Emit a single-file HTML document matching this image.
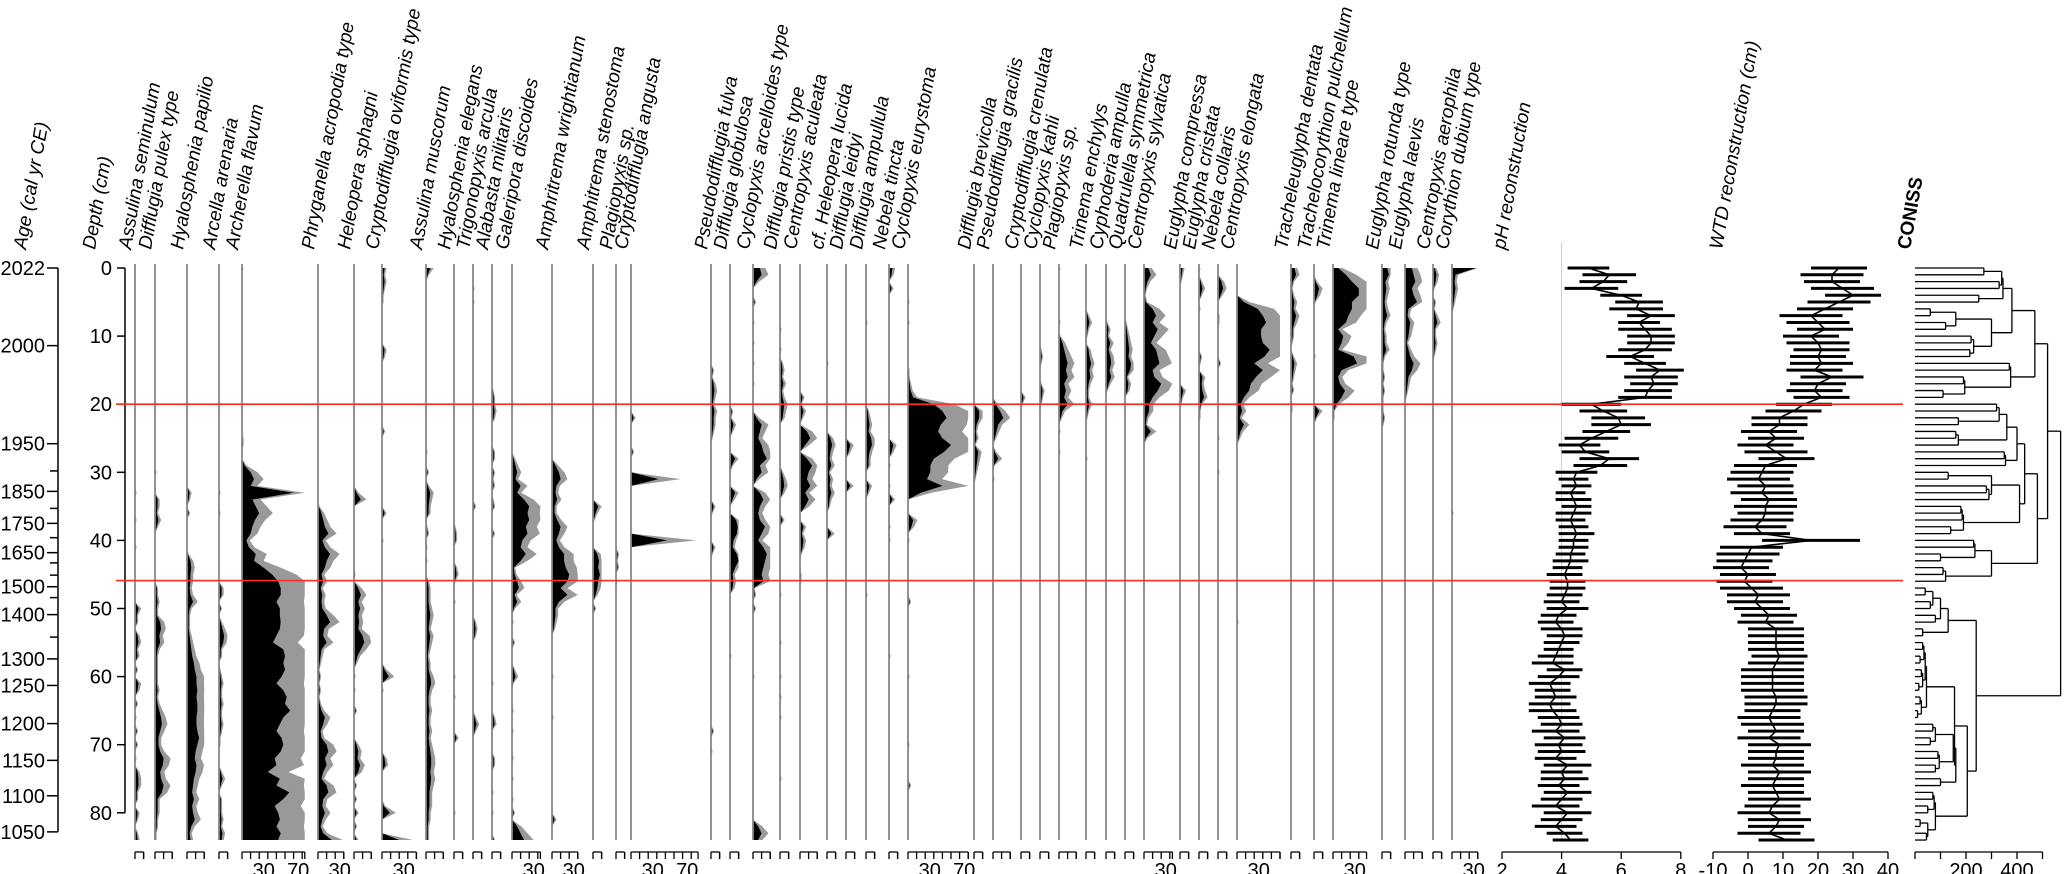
<!DOCTYPE html>
<html><head><meta charset="utf-8">
<style>
html,body{margin:0;padding:0;background:#fff;}
svg{display:block;font-family:"Liberation Sans",Arial,sans-serif;}
.lbl{font-style:italic;font-size:19px;fill:#000;}
.num{font-size:20px;fill:#000;}
</style></head>
<body>
<svg id="chart" width="2067" height="874" viewBox="0 0 2067 874" xmlns="http://www.w3.org/2000/svg">
<g id="cols"></g>
<g id="axes"></g>
<g id="recon"></g>
<g id="coniss"></g>
<g id="labels"></g>
<g id="zones"></g>
</svg>
<script>
const NS="http://www.w3.org/2000/svg";
const taxaNames=["Assulina seminulum","Difflugia pulex type","Hyalosphenia papilio","Arcella arenaria","Archerella flavum","Phryganella acropodia type","Heleopera sphagni","Cryptodifflugia oviformis type","Assulina muscorum","Hyalosphenia elegans","Trigonopyxis arcula","Alabasta militaris","Galeripora discoides","Amphritrema wrightianum","Amphitrema stenostoma","Plagiopyxis sp.","Cryptodifflugia angusta","Pseudodifflugia fulva","Difflugia globulosa","Cyclopyxis arcelloides type","Difflugia pristis type","Centropyxis aculeata","cf. Heleopera lucida","Difflugia leidyi","Difflugia ampullula","Nebela tincta","Cyclopyxis eurystoma","Difflugia brevicolla","Pseudodifflugia gracilis","Cryptodifflugia crenulata","Cyclopyxis kahli","Plagiopyxis sp.","Trinema enchylys","Cyphoderia ampulla","Quadrulella symmetrica","Centropyxis sylvatica","Euglypha compressa","Euglypha cristata","Nebela collaris","Centropyxis elongata","Tracheleuglypha dentata","Trachelocorythion pulchellum","Trinema lineare type","Euglypha rotunda type","Euglypha laevis","Centropyxis aerophila","Corythion dubium type"];
const taxaMax=[10,20,20,10,73,30,20,40,20,10,10,10,33,30,10,10,78,10,10,20,10,20,10,10,10,10,70,10,20,10,10,20,10,10,10,33,10,10,10,50,10,10,39,10,20,10,30];
// depth/value pairs (cm, %), unlisted samples are 0
const taxaValues=[
[33,1,37,1,41,1,50,4,51,2,52,2,54,3,55,4,56,2,57,3,59,2,61,4,62,3,64,2,66,1,68,2,70,2,72,1,74,3,75,4,76,4,77,2,78,2,80,3,81,2,83,2,84,3],
[30,1,34,3,35,3,36,2,37,4,38,2,47,2,48,2,49,3,50,2,51,2,52,6,53,7,54,5,55,6,56,3,57,2,58,2,59,2,60,2,61,2,62,3,63,2,64,3,65,5,66,7,67,8,68,6,69,4,70,4,71,6,72,10,73,9,74,6,75,7,76,10,77,8,78,3,79,3,80,3,81,2,82,2,83,1,84,1],
[33,3,34,2,36,2,42,1,43,4,44,5,45,4,46,4,47,3,48,4,49,7,50,3,51,2,52,2,53,2,54,3,55,4,56,5,57,6,58,8,59,9,60,11,61,11,62,12,63,11,64,12,65,12,66,11,67,11,68,12,69,14,70,12,71,10,72,9,73,11,74,10,75,8,76,7,77,6,78,8,79,6,80,7,81,9,82,5,83,3,84,4],
[33,1,36,1,47,3,48,3,50,2,52,2,53,4,54,6,55,5,56,2,57,2,59,1,60,2,61,3,62,2,63,2,64,3,65,2,66,2,67,3,68,2,69,1,70,1,74,2,75,4,76,2,78,2,79,2,80,2,81,3,82,2,83,4,84,3],
[0,1,25,1,26,1,29,3,30,10,31,14,32,10,33,60,34,12,35,16,36,20,37,15,38,12,39,10,40,5,41,8,42,16,43,14,44,25,45,35,46,42,47,45,48,45,49,40,50,44,51,44,52,45,53,44,54,40,55,36,56,48,57,50,58,48,59,50,60,46,61,40,62,48,63,52,64,50,65,56,66,48,67,44,68,40,69,46,70,48,71,45,72,38,73,40,74,30,75,44,76,40,77,55,78,48,79,38,80,42,81,44,82,40,83,45,84,42],
[35,1,36,4,37,6,38,8,39,12,40,5,41,8,42,14,43,10,44,8,45,4,46,6,47,3,48,5,49,4,50,5,51,10,52,14,53,7,54,6,55,10,56,4,57,3,58,2,59,1,60,2,61,1,62,2,63,1,64,2,65,4,66,8,67,6,68,3,69,4,70,10,71,12,72,8,73,10,74,6,75,4,76,10,77,12,78,6,79,5,80,8,81,5,82,3,83,6,84,16],
[33,3,34,8,45,1,47,5,48,8,49,5,50,7,51,5,52,6,53,5,54,10,55,12,56,8,57,4,58,2,60,1,62,1,65,2,70,3,71,5,72,4,73,7,74,5,76,2,78,2,80,3,82,2,84,3],
[0,3,1,2,2,3,3,2,4,1,5,1,12,3,13,2,24,2,36,3,40,1,59,3,60,8,62,1,72,3,73,4,79,2,80,9,84,20],
[0,5,1,2,27,1,30,2,32,2,33,5,34,4,35,3,36,3,38,1,39,2,41,1,43,1,46,2,47,3,48,3,49,3,50,4,51,5,52,4,53,3,54,5,55,4,56,3,57,2,58,3,59,3,60,5,61,6,62,4,63,3,64,3,65,4,66,3,67,3,68,4,69,3,70,4,71,5,72,6,73,6,74,5,75,6,76,5,77,4,78,4,79,4,80,3,81,3,82,2,83,2,84,2],
[38,1,39,2,40,2,44,2,45,3,46,1,49,1,60,1,63,1,69,3,80,1],
[3,1,5,1,35,2,52,2,53,3,54,2,66,2,67,4,68,2],
[18,1,19,2,20,2,21,3,22,2,27,2,28,2,30,2,31,1,32,2,34,1,35,2,39,2,61,1,66,2,67,3,72,2,73,2,77,1,80,1,84,2],
[20,1,28,2,29,4,30,6,31,4,32,10,33,6,34,14,35,20,36,18,37,20,38,16,39,18,40,12,41,10,42,16,43,10,44,2,45,3,46,6,47,8,48,3,49,6,50,2,52,1,55,2,59,2,60,4,61,1,65,1,68,1,72,1,75,1,78,1,80,2,82,6,83,10,84,14],
[29,4,30,8,31,10,32,5,33,4,34,6,35,3,36,3,37,6,38,10,39,8,40,5,41,8,42,14,43,14,44,16,45,20,46,18,47,10,48,18,49,8,50,4,51,4,52,3,53,2,60,1,66,1,81,3],
[35,6,36,3,37,1,42,5,43,7,44,6,45,8,46,6,47,5,48,3,50,2],
[42,2,43,1,44,2,46,1],
[22,3,27,2,31,32,40,42],
[15,2,16,1,17,3,18,4,19,3,20,2,21,4,22,3,23,3,24,2,25,1,35,3,36,1,41,3,42,1,68,2,71,1],
[21,2,22,1,23,4,24,2,28,6,29,2,33,6,34,3,37,7,38,9,39,8,40,4,41,3,42,8,43,10,44,6,45,3,46,4,47,3,57,1],
[0,8,1,10,2,4,5,2,8,1,11,1,14,1,17,1,22,4,23,10,24,8,25,6,26,10,27,12,28,16,29,8,30,10,31,4,33,8,34,12,35,8,36,6,37,8,38,14,39,10,40,6,41,12,42,16,43,14,44,12,45,10,46,12,47,1,48,2,50,2,60,1,82,6,83,10,84,6],
[9,1,12,1,14,2,15,3,16,2,17,4,18,2,19,3,20,5,21,4,22,3,30,2,31,4,32,5,33,3,37,3,48,1,55,1,60,1,63,1,66,1,75,1],
[19,3,20,1,21,4,22,2,24,8,25,12,26,6,28,8,29,14,30,10,31,8,32,12,33,6,34,10,35,6,38,4,39,2,40,4,41,3,42,1,45,1,46,1],
[14,1,25,4,26,6,27,4,28,3,29,5,30,2,31,4,32,3,33,5,34,3,35,2,39,5],
[26,5,27,3,32,5],
[8,1,21,2,22,3,23,4,24,3,25,6,26,7,27,4,28,3,29,3,32,4,33,2,48,1],
[0,4,1,3,3,3,26,5,27,3,29,1,32,1,34,4,38,1,40,1,57,1],
[5,1,8,1,15,1,16,1,17,2,18,3,19,6,20,30,21,40,22,45,23,38,24,35,25,40,26,50,27,42,28,30,29,26,30,26,31,22,32,40,33,15,37,6,38,4,40,1,49,2,60,1,70,1,76,2],
[21,6,22,6,23,3,24,2,25,3,26,1,27,5,28,4,29,3,30,2,31,1],
[20,3,21,8,22,12,23,6,24,4,25,2,27,2,28,6,29,1,31,1],
[19,3,20,1],
[12,1,13,2,14,1,17,1,18,3,19,2,20,1],
[0,1,8,1,10,1,11,4,12,6,13,8,14,10,15,8,16,10,17,6,18,8,19,6,20,10,21,4,22,2,24,1,27,1],
[7,2,8,4,9,2,10,1,12,3,13,4,14,6,15,4,16,5,17,3,18,2,19,2,20,4,21,2,22,1,28,1],
[8,1,9,3,10,2,11,5,12,3,13,5,14,6,15,4,16,6,17,3,18,1],
[8,1,9,2,10,3,11,4,12,5,13,4,14,7,15,6,16,2,17,4,18,3],
[0,5,1,8,2,4,3,2,4,1,5,2,6,10,7,14,8,10,9,16,10,12,11,8,12,14,13,16,14,18,15,10,16,12,17,20,18,16,19,10,20,6,21,6,22,3,23,2,24,8,25,2],
[0,3,1,2,2,1,18,4,19,2,20,1],
[0,1,2,2,3,4,4,2,6,1,13,2,14,1,16,4,17,3,18,4,19,6,20,2,21,1,22,1],
[2,4,3,6,4,3,7,1,8,1,14,2,25,1,30,1],
[5,8,6,24,7,30,8,34,9,28,10,28,11,30,12,38,13,32,14,20,15,30,16,22,17,16,18,14,19,8,20,4,21,6,22,3,23,8,24,4,25,2,52,1],
[0,4,1,6,2,2,3,1,4,2,5,4,6,3,7,6,8,4,9,2,10,2,11,1,13,2,14,4,15,3,16,2,17,1,18,2,20,1,21,1],
[2,2,3,6,4,4,5,1,13,1,21,6,22,2],
[0,6,1,15,2,22,3,30,4,30,5,22,6,22,7,18,8,15,9,6,10,12,11,10,12,6,13,24,14,28,15,10,16,6,17,8,18,14,19,10,20,4,21,1,22,1],
[0,6,1,8,2,4,3,5,4,4,5,3,6,4,7,6,8,3,9,2,10,3,11,3,12,5,13,2,14,1,15,1,16,2,17,1,18,2,19,1,20,1,21,1,22,2,23,1],
[0,8,1,10,2,12,3,8,4,10,5,14,6,4,7,3,8,6,9,5,10,4,11,2,12,4,13,6,14,10,15,8,16,4,17,3,18,2,19,1],
[0,2,1,4,2,3,3,1,5,2,6,1,7,3,8,5,9,2,10,2,11,3,12,2,13,1],
[0,28,1,4,2,3,3,4,4,3,5,2,6,1,36,1]
];
const phValues=[4.9,5.6,5.4,5.0,6.0,6.6,6.5,7.0,6.6,6.8,7.0,7.0,6.8,6.3,6.8,7.3,7.0,7.1,6.9,6.8,5.0,5.4,5.9,6.0,5.5,5.0,4.6,4.8,5.6,5.3,4.5,4.4,4.5,4.3,4.4,4.5,4.4,4.3,4.4,4.5,4.4,4.4,4.3,4.3,4.2,4.1,4.2,4.2,4.1,4.0,4.2,3.9,3.8,4.0,4.1,4.0,3.9,3.8,3.7,4.1,3.9,3.6,3.7,3.8,3.6,3.7,3.9,4.0,3.8,4.1,3.9,4.0,3.8,4.2,4.0,4.1,3.9,4.2,4.0,3.8,4.2,4.0,3.8,4.1,4.3];
const phErr=[0.7,0.9,0.8,0.9,0.7,0.8,0.9,0.8,0.7,0.9,0.8,0.8,0.9,0.8,0.7,0.8,0.9,0.8,0.8,0.9,1.0,0.8,0.9,1.0,0.8,0.9,0.7,0.8,1.0,0.9,0.7,0.5,0.5,0.5,0.6,0.5,0.6,0.5,0.5,0.6,0.5,0.5,0.5,0.6,0.5,0.6,0.6,0.6,0.6,0.6,0.7,0.6,0.6,0.7,0.6,0.6,0.5,0.6,0.7,0.6,0.7,0.7,0.6,0.7,0.7,0.8,0.7,0.7,0.8,0.7,0.8,0.8,0.7,0.8,0.7,0.8,0.7,0.8,0.7,0.8,0.8,0.7,0.7,0.6,0.6];
const wtdValues=[26,24,24,27,30,26,22,18,20,22,18,20,21,20,21,19,24,20,19,21,16,13,9,9,6,8,5,8,11,5,4,3,5,4,6,5,5,4,2,4,18,1,0,-1,-2,0,-1,1,3,2,4,6,5,8,8,8,8,9,8,7,7,7,7,8,8,7,6,7,8,6,9,8,8,7,9,8,7,8,9,7,6,9,8,6,11];
const wtdErr=[8,9,8,9,8,9,8,9,9,8,8,9,8,8,9,8,9,8,8,8,8,8,8,8,8,8,8,9,8,9,9,9,8,9,8,9,8,9,9,8,14,9,9,8,8,8,8,9,9,8,8,8,8,8,8,8,8,8,8,9,9,9,9,9,9,8,9,9,8,9,9,8,8,9,9,8,9,8,9,8,9,9,8,9,8];
const ageLabels=["2022","2000","1950","1850","1750","1650","1500","1400","1300","1250","1200","1150","1100","1050"];
const ageDepths=[0,11.4,25.8,32.8,37.5,41.8,46.8,50.9,57.4,61.3,66.9,72.3,77.5,82.8];
const ageMinorDepths=[29.8,35.3,39.6,43.3,45.1,48.4,54.2];
const depthTicks=[0,10,20,30,40,50,60,70,80];
const zoneDepths=[20,45.9];
const phTicks=[2,4,6,8];
const wtdTicks=[-10,0,10,20,30,40];
const conissTicks=[0,100,200,300,400,500];
const conissLabels=[200,400];
const A1=[[[0,1,270],[2,3,330],340],[4,5,250],345];
const A2=[[[6,7,60],[8,9,120],160],[[10,11,220],[12,13,215],230],300];
const A3=[[14,15,370],[[16,17,190],[18,19,110],195],375];
const Bt=[[[[20,21,320],[22,23,170],330],[[24,25,160],26,170],360],[[27,28,350],29,355],400];
const Bm=[[[30,31,130],[[32,33,280],34,290],300],[[[35,36,180],37,185],[38,39,140],190],410];
const Bb=[[[40,41,230],[42,43,100],235],[[44,45,110],46,120],300];
const C1=[[[[47,48,40],[49,50,60],70],[51,52,80],100],[53,54,30],130];
const C2=[[[[55,56,30],[57,58,20],35],[[59,60,25],[61,62,15],30],40],[[63,64,20],[65,66,10],25],45];
const C3=[[[[67,68,70],[69,70,60],80],[[71,72,90],[73,74,80],95],150],[75,76,100],160];
const C4=[[[77,78,70],[79,80,50],75],[[81,82,20],[83,84,45],50],80];
const conissTree=[[[[A1,A2,380],A3,470],[[Bt,Bm,430],Bb,480],520],[C1,[[C2,C3,155],C4,205],240],571];

// layout (not data)
const colX=[135,155,187,219,242,318,354,382,426,454,473,492,512,552,593,616,631,711,730,753,780,800,827,846,866,889,908,974,993,1021,1040,1059,1086,1106,1125,1144,1180,1199,1218,1237,1291,1314,1333,1382,1405,1433,1452];
const Y0=268, PXCM=6.81, PXPCT=0.86, AXY=852, NS_=85;
const yD=d=>Y0+d*PXCM;
const phX=v=>1502+(v-2)*29.8;
const wtdX=v=>1713+(v+10)*3.5;
const conX=h=>1915+h*0.255;

function mk(tag,attrs,parent){const e=document.createElementNS(NS,tag);for(const k in attrs)e.setAttribute(k,attrs[k]);parent.appendChild(e);return e;}
const cols=document.getElementById('cols'),axes=document.getElementById('axes'),labels=document.getElementById('labels');

function rotLabel(txt,x,y,name,bold){
  const t=mk('text',{x:0,y:0,transform:`translate(${x},${y}) rotate(-80)`,class:'lbl'},labels);
  
  
  if(bold){t.style.fontStyle='normal';t.style.fontWeight='bold';}
  t.textContent=txt;return t;
}
rotLabel('Age (cal yr CE)',26,250,'age-axis-title');
rotLabel('Depth (cm)',95,250,'depth-axis-title');

taxaNames.forEach((nm,i)=>{
  const bx=colX[i];
  const vals=new Array(NS_).fill(0);
  const pr=taxaValues[i];
  for(let k=0;k<pr.length;k+=2){if(pr[k]<NS_)vals[pr[k]]=pr[k+1];}
  const g=mk('g',{},cols);
  
  
  const mx=taxaMax[i];
  let pg=`${bx},${yD(0)} `,pb=`${bx},${yD(0)} `;
  vals.forEach((v,d)=>{const gv=Math.min(v*1.8,mx);pg+=`${bx+gv*PXPCT},${yD(d)} `;pb+=`${bx+v*PXPCT},${yD(d)} `;});
  pg+=`${bx},${yD(NS_-1)}`;pb+=`${bx},${yD(NS_-1)}`;
  const gp=mk('polygon',{points:pg,fill:'#999'},g);
  
  
  const bp=mk('polygon',{points:pb,fill:'#000'},g);
  
  
  const ln=mk('line',{x1:bx,x2:bx,y1:yD(0)-4,y2:yD(NS_-1),stroke:'#888','stroke-width':1.8},g);
  
  
  const ax=mk('g',{},g);
  
  
  const xe=bx+mx*PXPCT;
  mk('line',{x1:bx,x2:xe,y1:AXY,y2:AXY,stroke:'#000','stroke-width':1.3},ax);
  for(let p=0;p<=mx;p+=10)mk('line',{x1:bx+p*PXPCT,x2:bx+p*PXPCT,y1:AXY,y2:AXY+7,stroke:'#000','stroke-width':1.3},ax);
  mk('line',{x1:xe,x2:xe,y1:AXY,y2:AXY+7,stroke:'#000','stroke-width':1.3},ax);
  [30,70].forEach(p=>{if(p<=mx){const t=mk('text',{x:bx+p*PXPCT-4,y:877,'text-anchor':'middle',class:'num'},ax);t.textContent=String(p);}});
  rotLabel(nm,bx-4,250,'label-'+nm.toLowerCase().replace(/[^a-z]+/g,'-'));
});

const da=mk('g',{},axes);


mk('line',{x1:125,x2:125,y1:yD(0),y2:yD(80),stroke:'#000','stroke-width':1.5},da);
depthTicks.forEach(d=>{mk('line',{x1:117,x2:125,y1:yD(d),y2:yD(d),stroke:'#000','stroke-width':1.5},da);
  const t=mk('text',{x:112,y:yD(d)+7,'text-anchor':'end',class:'num'},da);t.textContent=String(d);});
const aa=mk('g',{},axes);


mk('line',{x1:58,x2:58,y1:yD(0),y2:yD(ageDepths[ageDepths.length-1]),stroke:'#000','stroke-width':1.5},aa);
ageDepths.forEach((d,i)=>{mk('line',{x1:47,x2:58,y1:yD(d),y2:yD(d),stroke:'#000','stroke-width':1.5},aa);
  const t=mk('text',{x:45,y:yD(d)+7,'text-anchor':'end',class:'num'},aa);t.textContent=ageLabels[i];});
ageMinorDepths.forEach(d=>mk('line',{x1:50,x2:58,y1:yD(d),y2:yD(d),stroke:'#000','stroke-width':1.5},aa));

const rec=document.getElementById('recon');
function reconPanel(vals,errs,fx,name,ticks,x0,x1){
  const g=mk('g',{},rec);
  
  
  vals.forEach((v,d)=>{const e=mk('line',{x1:fx(v-errs[d]),x2:fx(v+errs[d]),y1:yD(d),y2:yD(d),stroke:'#000','stroke-width':3},g);
    
    });
  const pl=mk('polyline',{points:vals.map((v,d)=>`${fx(v)},${yD(d)}`).join(' '),fill:'none',stroke:'#000','stroke-width':1.6},g);
  
  
  const ax=mk('g',{},g);
  
  
  mk('line',{x1:x0,x2:x1,y1:AXY,y2:AXY,stroke:'#000','stroke-width':1.3},ax);
  ticks.forEach(t=>{mk('line',{x1:fx(t),x2:fx(t),y1:AXY,y2:AXY+7,stroke:'#000','stroke-width':1.3},ax);
    const tx=mk('text',{x:fx(t),y:877,'text-anchor':'middle',class:'num'},ax);tx.textContent=String(t);});
  return g;
}
mk('line',{x1:phX(4),x2:phX(4),y1:242,y2:yD(NS_-1),stroke:'#ccc','stroke-width':1},rec);
reconPanel(phValues,phErr,phX,'ph-reconstruction',phTicks,phX(2),phX(8));
reconPanel(wtdValues,wtdErr,wtdX,'wtd-reconstruction',wtdTicks,wtdX(-10),wtdX(40));
rotLabel('pH reconstruction',1505,250,'ph-title');
rotLabel('WTD reconstruction (cm)',1722,250,'wtd-title');
rotLabel('CONISS',1910,250,'coniss-title',true);

const cg=document.getElementById('coniss');
function drawNode(n){
  if(typeof n==='number')return {y:yD(n),h:0};
  const a=drawNode(n[0]),b=drawNode(n[1]),h=n[2];
  [a,b].forEach(c=>mk('line',{x1:conX(c.h),x2:conX(h),y1:c.y,y2:c.y,stroke:'#000','stroke-width':1.3},cg));
  mk('line',{x1:conX(h),x2:conX(h),y1:a.y,y2:b.y,stroke:'#000','stroke-width':1.3},cg);
  return {y:(a.y+b.y)/2,h:h};
}
drawNode(conissTree);
const ca=mk('g',{},cg);


mk('line',{x1:conX(0),x2:conX(500),y1:AXY,y2:AXY,stroke:'#000','stroke-width':1.3},ca);
conissTicks.forEach(t=>mk('line',{x1:conX(t),x2:conX(t),y1:AXY,y2:AXY+7,stroke:'#000','stroke-width':1.3},ca));
conissLabels.forEach(t=>{const tx=mk('text',{x:conX(t),y:877,'text-anchor':'middle',class:'num'},ca);tx.textContent=String(t);});

const zg=document.getElementById('zones');
zoneDepths.forEach(d=>{const l=mk('line',{x1:116,x2:1903,y1:yD(d),y2:yD(d),stroke:'#ff2a2a','stroke-width':1.6},zg);
  
  });
</script>
</body></html>
